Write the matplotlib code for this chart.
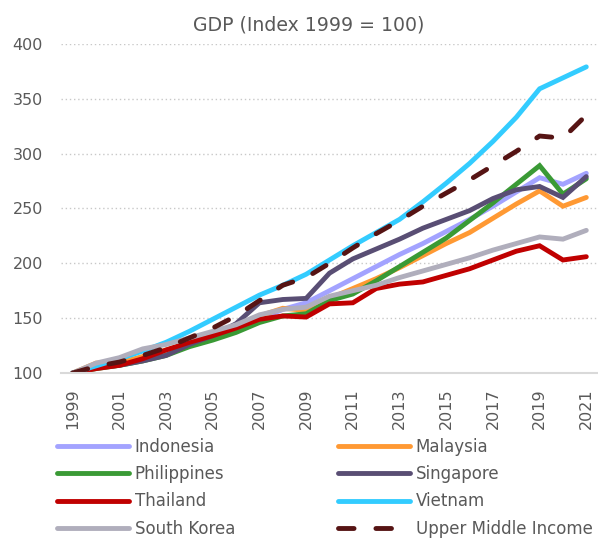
import matplotlib
matplotlib.use("Agg")
import matplotlib.pyplot as plt

years = list(range(1999, 2022))
indonesia = [100, 105, 108.8, 113.6, 119, 125.6, 133, 140, 149, 158, 164, 175, 186, 197, 208, 218, 229, 240, 252, 265, 278, 272, 282]
malaysia = [100, 109, 109.5, 115, 121, 128, 135, 143, 152, 159, 157, 168, 177, 186, 196, 207, 218, 228, 241, 254, 266, 252, 260]
philippines = [100, 104, 107, 111, 116, 124, 130, 137, 146, 152, 154, 166, 172, 184, 197, 210, 223, 239, 255, 272, 289, 263, 277]
singapore = [100, 105, 107, 111, 116, 126, 134, 145, 164, 167, 168, 191, 204, 213, 222, 232, 240, 248, 259, 267, 270, 260, 279]
thailand = [100, 104, 107, 113, 121, 128, 134, 141, 149, 152, 151, 163, 164, 177, 181, 183, 189, 195, 203, 211, 216, 203, 206]
vietnam = [100, 106.5, 113, 120, 128, 138, 149, 160, 171, 180, 190, 203, 216, 228, 240, 256, 273, 291, 311, 333, 359, 369, 379]
south_korea = [100, 109, 114, 122, 126, 132, 138, 144, 153, 158, 160, 170, 175, 180, 187, 193, 199, 205, 212, 218, 224, 222, 230]
upper_middle = [100, 106, 110, 116, 123, 132, 141, 152, 166, 180, 187, 200, 214, 227, 239, 252, 264, 276, 289, 302, 316, 314, 335]

series_names = ["Indonesia", "Malaysia", "Philippines", "Singapore", "Thailand", "Vietnam", "South Korea", "Upper Middle Income"]
series_values = [indonesia, malaysia, philippines, singapore, thailand, vietnam, south_korea, upper_middle]
colors = ["#a3a3ff", "#ff9933", "#3a9a35", "#594e74", "#c00000", "#33ccff", "#b0aebc", "#561414"]

yticks = [100, 150, 200, 250, 300, 350, 400]
xticks = list(range(1999, 2022, 2))

text_color = "#595959"
plt.rcParams['font.family'] = ['DejaVu Sans']

fig = plt.figure(figsize=(5.98, 5.41), dpi=100)
ax = fig.add_axes([0.102, 0.3105, 0.896, 0.6085])

DASH = (0, (3.2, 4.5))
handles = {}
for name, vals, c in zip(series_names, series_values, colors):
    if name == "Upper Middle Income":
        ln, = ax.plot(years, vals, color=c, lw=3.5, linestyle=DASH,
                      dash_capstyle="round", label=name)
    else:
        ln, = ax.plot(years, vals, color=c, lw=3.5, solid_capstyle="round",
                      solid_joinstyle="miter", label=name)
    handles[name] = ln

ax.set_ylim(100, 400)
ax.set_xlim(1998.5, 2021.45)
ax.set_yticks(yticks)
ax.set_xticks(xticks)
ax.set_xticklabels([str(x) for x in xticks], rotation=90)
ax.tick_params(axis="both", length=0, labelsize=11.5, colors=text_color)
ax.tick_params(axis="y", pad=13)
ax.tick_params(axis="x", pad=11)

for s in ["top", "right", "left"]:
    ax.spines[s].set_visible(False)
ax.spines["bottom"].set_color("#d9d9d9")
ax.spines["bottom"].set_linewidth(1.5)
ax.set_axisbelow(True)
ax.yaxis.grid(True, linestyle=(0, (1, 2)), color="#c8c8c8", lw=1.0)

fig.text(0.517, 0.943, "GDP (Index 1999 = 100)", ha="center", va="baseline",
         fontsize=13.6, color=text_color)

left_names = ["Indonesia", "Philippines", "Thailand", "South Korea"]
right_names = ["Malaysia", "Singapore", "Vietnam", "Upper Middle Income"]
legend_kw = dict(loc="upper left", frameon=False, fontsize=12, handlelength=4.3,
                 handletextpad=0.36, labelspacing=0.56, borderaxespad=0, borderpad=0)
for names, x0 in [(left_names, 57 / 598), (right_names, 338 / 598)]:
    leg = fig.legend([handles[n] for n in names], names,
                     bbox_to_anchor=(x0, 0.191), **legend_kw)
    for t in leg.get_texts():
        t.set_color(text_color)

fig.savefig("out.png", dpi=100)
